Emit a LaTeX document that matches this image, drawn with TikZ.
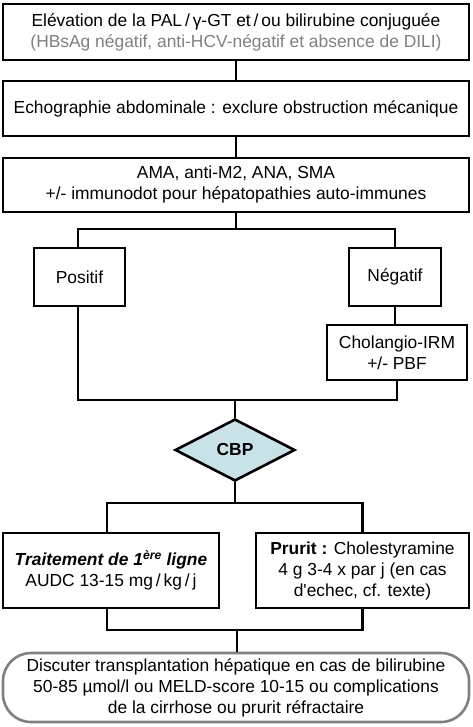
\documentclass[tikz,border=0pt]{standalone}
\usepackage{fontspec}
\setmainfont{Liberation Sans}
\usetikzlibrary{shapes.geometric}
\definecolor{cbpblue}{HTML}{C8E2E8}
\definecolor{softgray}{HTML}{808080}
\begin{document}
\begin{tikzpicture}[x=1pt, y=-1pt,
    box/.style = {draw, line width=2.6pt, align=center, inner sep=2pt,
                  font=\fontsize{17.4}{21}\selectfont},
    link/.style = {line width=2.6pt}]
  \useasboundingbox (0,0) rectangle (472,727);
  \node[box, minimum width=466pt, minimum height=56pt] (elev) at (236,32)
    {Elévation de la PAL\,/\,γ-GT et\,/\,ou bilirubine conjuguée \\
     \textcolor{softgray}{(HBsAg négatif, anti-HCV-négatif et absence de DILI)}};
  \node[box, minimum width=466pt, minimum height=55pt] (echo) at (236,108.5)
    {Echographie abdominale : exclure obstruction mécanique};
  \node[box, minimum width=466pt, minimum height=54pt] (auto) at (236,185)
    {AMA, anti-M2, ANA, SMA \\ +/- immunodot pour hépatopathies auto-immunes};
  \node[box, minimum width=91pt, minimum height=58pt] (pos) at (79.5,277) {Positif};
  \node[box, minimum width=92pt, minimum height=58pt] (neg) at (395,277) {Négatif};
  \node[box, minimum width=140pt, minimum height=55pt] (chol) at (397,352.5)
    {Cholangio-IRM \\ +/- PBF};
  \node[diamond, draw, fill=cbpblue, line width=2.6pt, aspect=2, inner sep=0pt,
        minimum width=120pt, minimum height=62pt,
        font=\fontsize{17.4}{21}\selectfont\bfseries] (cbp) at (235,450) {CBP};
  \node[box, minimum width=216pt, minimum height=75pt] (trt) at (111,570.5)
    {\textbf{\textit{Traitement de 1\textsuperscript{ère} ligne}} \\ AUDC 13-15 mg\,/\,kg\,/\,j};
  \node[box, minimum width=213pt, minimum height=75pt] (prur) at (362.5,570.5)
    {\textbf{Prurit :} Cholestyramine \\ 4 g 3-4 x par j (en cas \\ d\textquotesingle echec, cf. texte)};
  \node[box, draw=softgray, rounded corners=28pt, minimum width=466pt, minimum height=69pt] (disc) at (236,687.5)
    {Discuter transplantation hépatique en cas de bilirubine \\
     50-85 µmol/l ou MELD-score 10-15 ou complications \\
     de la cirrhose ou prurit réfractaire};
  % branching points
  \coordinate (split) at (236,229);
  \coordinate (merge) at (235,400);
  \coordinate (ther) at (235,503);
  \coordinate (fin) at (237,630);
  \draw[link] (elev) -- (echo);
  \draw[link] (echo) -- (auto);
  \draw[link] (auto.south) -- (split);
  \draw[link] ([xshift=-1.5pt]pos.north) |- (split) -| (neg.north);
  \draw[link] (neg) -- (neg |- chol.north);
  \draw[link] ([xshift=-1.5pt]pos.south) |- (merge) -| (chol.south);
  \draw[link] (merge) -- (cbp.north);
  \draw[link] (cbp.south) -- (ther);
  \draw[link] ([xshift=-4pt]trt.north) |- (ther) -| (prur.north);
  \draw[link] ([xshift=-4pt]trt.south) |- (fin) -| (prur.south);
  \draw[link] (fin) -- (disc.north -| fin);
\end{tikzpicture}
\end{document}
